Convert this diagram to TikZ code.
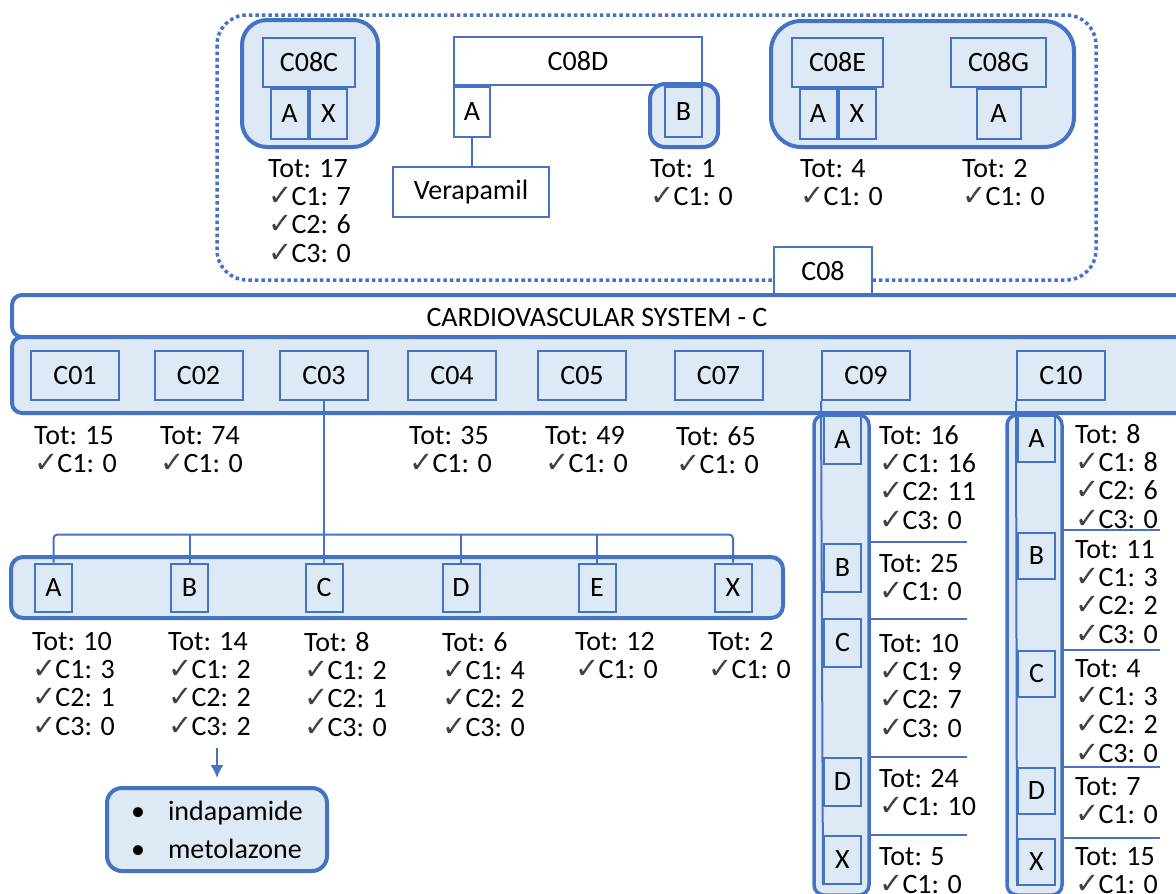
\documentclass[tikz,border=0pt]{standalone}
\usepackage{fontspec}
\setmainfont{Carlito}
\newfontfamily\checkfont{DejaVu Sans}
\usetikzlibrary{arrows.meta}
\definecolor{cblue}{RGB}{68,114,196}
\definecolor{cfill}{RGB}{222,233,246}
\definecolor{chkgray}{RGB}{64,64,64}
\newcommand{\chk}{{\fontsize{29}{29}\checkfont\textcolor{chkgray}{✓}}\kern-1pt}
\newcommand{\totA}[2]{Tot: #1\\\chk C1: #2}
\newcommand{\totB}[4]{Tot: #1\\\chk C1: #2\\\chk C2: #3\\\chk C3: #4}
\tikzset{
  lvlbox/.style={draw=cblue, line width=2pt, fill=cfill, inner sep=0pt, minimum height=49pt},
  subbox/.style={lvlbox, minimum width=37pt, minimum height=48pt},
  grpbox/.style={draw=cblue, line width=4pt, fill=cfill},
  statnode/.style={anchor=north west, inner sep=0pt, align=left},
  link/.style={draw=cblue, line width=2pt},
}
\begin{document}
\begin{tikzpicture}[x=1pt, y=-1pt, font=\fontsize{28}{28.3}\selectfont]
	\useasboundingbox (0,0) rectangle (1176,894);
	% C08 detail (dotted frame)
	\draw[cblue, line width=3.5pt, dash pattern=on 3.5pt off 3pt, rounded corners=30pt] (217,15) rectangle (1096,280);
	\draw[grpbox, rounded corners=25pt] (242,20) rectangle (378,147);
	\node[lvlbox, minimum width=92pt] (c08c) at (309,62.5) {C08C};
	\node[subbox, anchor=north east, minimum height=50pt] (c08ca) at (c08c.south) {A};
	\node[subbox, anchor=north west, minimum height=50pt] (c08cx) at (c08c.south) {X};
	\node[lvlbox, fill=white, minimum width=248pt, minimum height=48pt] (c08d) at (578,61) {C08D};
	\node[subbox, fill=white, anchor=north west, minimum width=36pt, minimum height=50pt] (c08da) at (c08d.south west) {A};
	\node[lvlbox, fill=white, minimum width=156pt, minimum height=50pt] (vera) at (471,192) {Verapamil};
	\draw[link] (c08da.south) -- (c08da.south |- vera.north);
	\draw[grpbox, rounded corners=15pt] (650,84) rectangle (718,147);
	\node[subbox, anchor=north east, minimum height=50pt] (c08db) at (c08d.south east) {B};
	\draw[grpbox, rounded corners=30pt] (771,21) rectangle (1074,147);
	\node[lvlbox, minimum width=91pt] (c08e) at (837.5,62.5) {C08E};
	\node[subbox, anchor=north east, minimum height=50pt] (c08ea) at (c08e.south) {A};
	\node[subbox, anchor=north west, minimum height=50pt] (c08ex) at (c08e.south) {X};
	\node[lvlbox, minimum width=95pt] (c08g) at (998.5,62.5) {C08G};
	\node[subbox, anchor=north, minimum width=44pt, minimum height=50pt] (c08ga) at (c08g.south) {A};
	\node[statnode] (s08c) at (268,159) {\totB{17}{7}{6}{0}};
	\node[statnode] (s08db) at (650,159) {\totA{1}{0}};
	\node[statnode] (s08e) at (800,159) {\totA{4}{0}};
	\node[statnode] (s08g) at (962,159) {\totA{2}{0}};
	\node[lvlbox, fill=white, minimum width=98pt, minimum height=48pt] (c08) at (823,271) {C08};
	% main level
	\draw[grpbox, fill=white, rounded corners=10pt] (12,295) rectangle (1200,337);
	\node (system) at (597,318) {CARDIOVASCULAR SYSTEM - C};
	\draw[grpbox, rounded corners=10pt] (12,337) rectangle (1200,413);
	\foreach \name/\cx in {C01/75, C02/198.5, C03/324, C04/452, C05/582, C07/718.5, C09/866, C10/1061}
		\node[lvlbox, minimum width=88pt] (\name) at (\cx,375.5) {\name};
	\foreach \name/\sx/\tot in {C01/34/15, C02/160/74, C04/409/35, C05/545/49, C07/676/65}
		\node[statnode] (s\name) at (\sx,426) {\totA{\tot}{0}};
	% C03 subtree
	\draw[grpbox, rounded corners=12pt] (11,557) rectangle (783,618);
	\foreach \s/\cx in {A/53.5, B/189.5, C/324, D/461, E/597, X/733}
		\node[subbox] (c03\s) at (\cx,587.5) {\s};
	\draw[link, rounded corners=4pt] (c03A.north) -- ++(0,-28) -| (c03X.north);
	\foreach \s in {B,D,E}
		\draw[link] (c03\s.north) -- ++(0,-28);
	\draw[link] (C03.south) -- (c03C.north);
	\foreach \s/\sx/\a/\b/\c/\d in {A/32/10/3/1/0, B/168/14/2/2/2, C/304/8/2/1/0, D/442/6/4/2/0}
		\node[statnode] (s03\s) at (\sx,632) {\totB{\a}{\b}{\c}{\d}};
	\node[statnode] (s03E) at (575,632) {\totA{12}{0}};
	\node[statnode] (s03X) at (708,632) {\totA{2}{0}};
	\node[draw=cblue, line width=4pt, fill=cfill, rounded corners=15pt, minimum width=220pt, minimum height=83pt,
		align=left, font=\fontsize{28}{38}\selectfont] (drugs) at (217,829.5)
		{\makebox[37pt][l]{\textbullet}indapamide\\\makebox[37pt][l]{\textbullet}metolazone};
	\coordinate (arrtail) at (217,748);
	\draw[link, -{Latex[length=13pt, width=13pt]}, shorten >=8pt] (arrtail) -- (drugs.north);
	% C09 column
	\draw[grpbox, line width=3.5pt, rounded corners=10pt] (814,415) rectangle (869,895);
	\foreach \s/\ty in {A/415, B/543, C/618, D/757, X/835}
		\node[subbox, anchor=north west] (c09\s) at (823,\ty) {\s};
	\draw[link] (C09.south west) -- (c09X.south west);
	\foreach \y in {542,619,757,835}
		\draw[link] (869,\y) -- (967,\y);
	\node[statnode] (s09A) at (879,425) {\totB{16}{16}{11}{0}};
	\node[statnode] (s09B) at (879,554) {\totA{25}{0}};
	\node[statnode] (s09C) at (879,634) {\totB{10}{9}{7}{0}};
	\node[statnode] (s09D) at (879,769) {\totA{24}{10}};
	\node[statnode] (s09X) at (879,847) {\totA{5}{0}};
	% C10 column
	\draw[grpbox, line width=3.5pt, rounded corners=10pt] (1007,415) rectangle (1062,895);
	\foreach \s/\ty in {A/415, B/532, C/650, D/767, X/838}
		\node[subbox, anchor=north west, minimum height=46pt] (c10\s) at (1017,\ty) {\s};
	\draw[link] (C10.south west) -- (c10X.south west);
	\foreach \y in {530,650,767,838}
		\draw[link] (1062,\y) -- (1160,\y);
	\node[statnode] (s10A) at (1075,424) {\totB{8}{8}{6}{0}};
	\node[statnode] (s10B) at (1075,540) {\totB{11}{3}{2}{0}};
	\node[statnode] (s10C) at (1075,659) {\totB{4}{3}{2}{0}};
	\node[statnode] (s10D) at (1075,777) {\totA{7}{0}};
	\node[statnode] (s10X) at (1075,847) {\totA{15}{0}};
\end{tikzpicture}
\end{document}
